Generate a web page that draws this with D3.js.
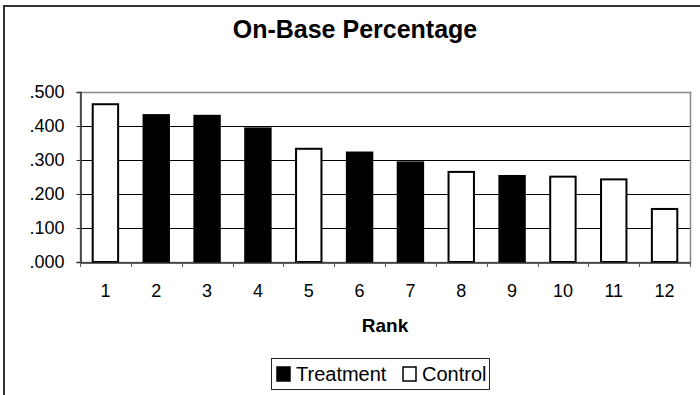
<!DOCTYPE html>
<html>
<head>
<meta charset="utf-8">
<script src="https://cdn.jsdelivr.net/npm/d3@7"></script>
<style>
  html, body { margin: 0; padding: 0; background: #fff; }
  svg { display: block; font-family: "Liberation Sans", Arial, sans-serif; }
</style>
</head>
<body>
<svg id="chart" width="700" height="395"></svg>
<script>
const ranks = ["1","2","3","4","5","6","7","8","9","10","11","12"];
const obp = [0.464, 0.432, 0.430, 0.393, 0.333, 0.322, 0.293, 0.265, 0.253, 0.251, 0.243, 0.156];
const groups = ["Control","Treatment","Treatment","Treatment","Control","Treatment","Treatment","Control","Treatment","Control","Control","Control"];
const yTicks = [0, 0.1, 0.2, 0.3, 0.4, 0.5];
const legendItems = ["Treatment", "Control"];

const svg = d3.select("#chart");
const margin = {left: 80, right: 10, top: 92, bottom: 133};
const W = 700, H = 395;

// outer chart border
svg.append("rect").attr("x", 4).attr("y", 6).attr("width", 760).attr("height", 460)
  .attr("fill", "#fff").attr("stroke", "#333").attr("stroke-width", 2);

const x = d3.scaleBand().domain(ranks).range([margin.left, W - margin.right]).paddingInner(0.5).paddingOuter(0.25);
const y = d3.scaleLinear().domain([0, 0.5]).range([H - margin.bottom, margin.top]);

const fill = g => g === "Treatment" ? "#000" : "#fff";

// gridlines
svg.append("g").selectAll("line").data(yTicks.filter(t => t > 0 && t < 0.5)).join("line")
  .attr("x1", margin.left).attr("x2", W - margin.right)
  .attr("y1", d => Math.round(y(d)) + 0.5).attr("y2", d => Math.round(y(d)) + 0.5)
  .attr("stroke", "#000").attr("stroke-width", 1);

// plot border (top/right)
svg.append("rect")
  .attr("x", margin.left + 0.5).attr("y", Math.round(y(0.5)) + 0.5)
  .attr("width", W - margin.right - margin.left).attr("height", Math.round(y(0)) - Math.round(y(0.5)))
  .attr("fill", "none").attr("stroke", "#888").attr("stroke-width", 1.5);

// bars
svg.append("g").selectAll("rect").data(ranks).join("rect")
  .attr("x", (d) => x(d))
  .attr("y", (d, i) => y(obp[i]))
  .attr("width", x.bandwidth())
  .attr("height", (d, i) => y(0) - y(obp[i]))
  .attr("fill", (d, i) => fill(groups[i]))
  .attr("stroke", "#000").attr("stroke-width", 2);

// y axis
const yAxis = d3.axisLeft(y).tickValues(yTicks).tickSize(4).tickPadding(12)
  .tickFormat(d => d3.format(".3f")(d).replace(/^0/, ""));
const gy = svg.append("g").attr("transform", `translate(${margin.left + 0.5},0)`).call(yAxis);
gy.select(".domain").attr("stroke", "#333").attr("stroke-width", 1.5);
gy.selectAll(".tick line").attr("stroke", "#333");
gy.selectAll(".tick text").attr("font-size", 18).attr("fill", "#000")
  .attr("font-family", "Liberation Sans, Arial, sans-serif");

// x axis
const xAxis = d3.axisBottom(x).tickSize(0).tickPadding(22);
const gx = svg.append("g").attr("transform", `translate(0,${Math.round(y(0)) + 0.5})`).call(xAxis);
gx.select(".domain").attr("stroke", "#333").attr("stroke-width", 1.5);
gx.selectAll(".tick text").attr("font-size", 18).attr("fill", "#000")
  .attr("font-family", "Liberation Sans, Arial, sans-serif");
// x tick marks between categories
const step = x.step();
const bounds = d3.range(ranks.length + 1).map(i => margin.left + i * step);
svg.append("g").selectAll("line").data(bounds).join("line")
  .attr("x1", d => Math.round(d) + 0.5).attr("x2", d => Math.round(d) + 0.5)
  .attr("y1", Math.round(y(0))).attr("y2", Math.round(y(0)) + 5)
  .attr("stroke", "#555").attr("stroke-width", 1);

// title
svg.append("text").attr("x", 355).attr("y", 38).attr("text-anchor", "middle")
  .attr("font-size", 25).attr("font-weight", "bold").text("On-Base Percentage");

// x axis title
svg.append("text").attr("x", 385).attr("y", 332).attr("text-anchor", "middle")
  .attr("font-size", 19).attr("font-weight", "bold").text("Rank");

// legend
const lg = svg.append("g");
lg.append("rect").attr("x", 271.5).attr("y", 358.5).attr("width", 218).attr("height", 31)
  .attr("fill", "#fff").attr("stroke", "#222").attr("stroke-width", 1);
const lx = [277, 403];
legendItems.forEach((name, i) => {
  lg.append("rect").attr("x", lx[i]).attr("y", 367).attr("width", 13).attr("height", 14)
    .attr("fill", fill(name)).attr("stroke", "#000").attr("stroke-width", 1.5);
  lg.append("text").attr("x", lx[i] + 19).attr("y", 381).attr("font-size", 20).text(name);
});
</script>
</body>
</html>
